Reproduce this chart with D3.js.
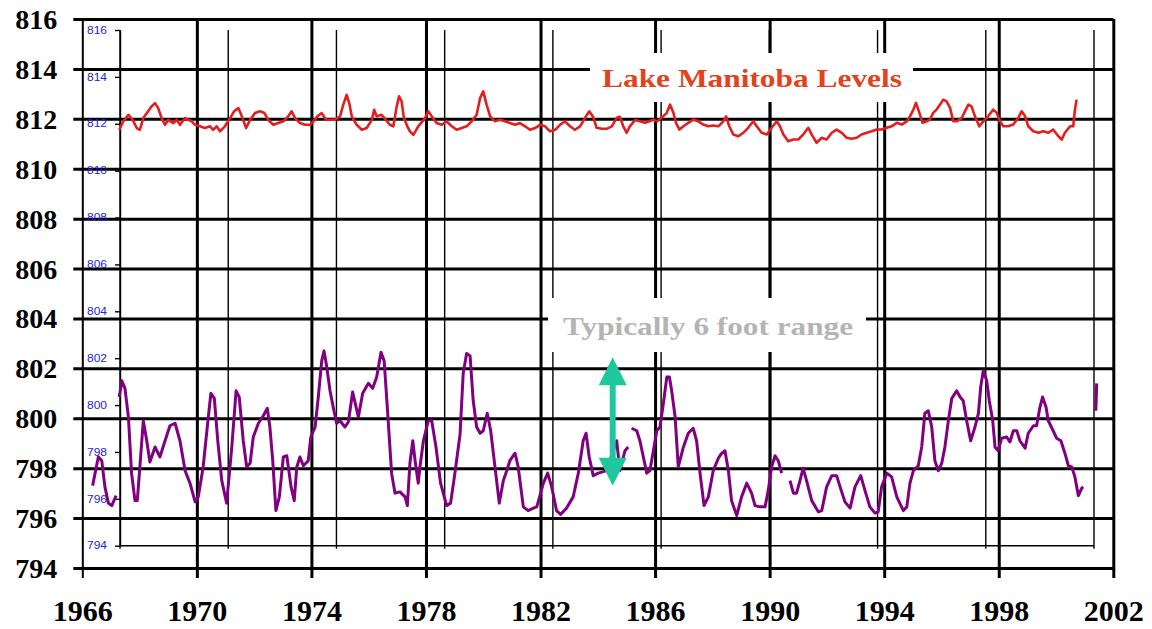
<!DOCTYPE html>
<html><head><meta charset="utf-8">
<script src="https://cdnjs.cloudflare.com/ajax/libs/d3/7.8.5/d3.min.js"></script>
<style>html,body{margin:0;padding:0;background:#fff;}svg{display:block;}</style>
</head><body>
<svg id="chart" width="1152" height="629"></svg>
<script>
// ---------- DATA ----------
const levelTicks = [794,796,798,800,802,804,806,808,810,812,814,816];
const yearTicks = [1966,1970,1974,1978,1982,1986,1990,1994,1998,2002];
const titleText = "Lake Manitoba Levels";
const rangeText = "Typically 6 foot range";

const redYears = [1967.29,1967.43,1967.61,1967.76,1967.90,1968.01,1968.13,1968.30,1968.42,1968.54,1968.65,1968.77,1968.89,1969.00,1969.18,1969.30,1969.41,1969.59,1969.70,1969.82,1969.94,1970.11,1970.28,1970.46,1970.57,1970.69,1970.81,1970.98,1971.16,1971.30,1971.45,1971.57,1971.72,1971.86,1972.03,1972.20,1972.36,1972.49,1972.67,1972.84,1973.02,1973.19,1973.31,1973.43,1973.60,1973.78,1973.95,1974.07,1974.21,1974.36,1974.51,1974.65,1974.82,1975.00,1975.11,1975.23,1975.32,1975.41,1975.58,1975.76,1975.93,1976.11,1976.19,1976.28,1976.45,1976.60,1976.74,1976.86,1976.98,1977.06,1977.15,1977.23,1977.35,1977.44,1977.56,1977.73,1977.97,1978.08,1978.20,1978.37,1978.55,1978.72,1978.90,1979.07,1979.25,1979.42,1979.60,1979.77,1979.89,1980.00,1980.12,1980.24,1980.41,1980.58,1980.76,1980.93,1981.11,1981.28,1981.46,1981.63,1981.81,1981.98,1982.16,1982.33,1982.51,1982.68,1982.85,1983.03,1983.20,1983.38,1983.55,1983.70,1983.84,1983.96,1984.14,1984.31,1984.49,1984.66,1984.77,1984.89,1985.01,1985.12,1985.30,1985.47,1985.65,1985.80,1985.94,1986.07,1986.23,1986.41,1986.52,1986.64,1986.73,1986.85,1986.99,1987.16,1987.33,1987.51,1987.68,1987.86,1988.03,1988.21,1988.38,1988.48,1988.59,1988.73,1988.91,1989.08,1989.25,1989.43,1989.55,1989.72,1989.90,1990.07,1990.25,1990.36,1990.48,1990.65,1990.83,1991.00,1991.17,1991.35,1991.47,1991.64,1991.82,1991.99,1992.17,1992.34,1992.52,1992.69,1992.86,1993.04,1993.21,1993.39,1993.56,1993.74,1993.91,1994.09,1994.26,1994.44,1994.61,1994.79,1994.90,1995.02,1995.11,1995.23,1995.34,1995.48,1995.60,1995.71,1995.83,1995.95,1996.06,1996.18,1996.30,1996.41,1996.53,1996.71,1996.82,1996.94,1997.05,1997.17,1997.32,1997.46,1997.63,1997.81,1997.93,1998.04,1998.16,1998.33,1998.51,1998.68,1998.80,1998.92,1999.03,1999.21,1999.38,1999.55,1999.73,1999.90,2000.08,2000.20,2000.31,2000.49,2000.60,2000.66,2000.72];
const redLevels = [811.56,811.9,812.16,811.96,811.63,811.56,812.03,812.3,812.5,812.63,812.43,812.03,811.76,811.96,811.83,811.96,811.76,812.03,811.96,811.9,811.76,811.7,811.63,811.7,811.56,811.7,811.5,811.7,812.03,812.3,812.43,812.1,811.63,811.96,812.23,812.3,812.23,811.96,811.76,811.83,811.9,812.1,812.3,812.03,811.83,811.76,811.76,811.9,812.1,812.23,811.96,811.96,811.96,812.1,812.56,812.96,812.63,812.1,811.76,811.56,811.63,811.96,812.36,812.1,812.16,811.96,811.76,811.7,812.5,812.9,812.7,812.03,811.7,811.5,811.36,811.7,812.03,812.3,812.1,811.83,811.76,811.9,811.7,811.56,811.63,811.7,811.9,812.16,812.83,813.1,812.56,812.1,811.9,811.96,811.9,811.83,811.76,811.83,811.7,811.56,811.63,811.76,811.7,811.5,811.56,811.76,811.9,811.7,811.56,811.7,812.03,812.3,812.07,811.64,811.6,811.6,811.7,812.04,812.08,811.7,811.44,811.7,811.95,811.9,811.84,811.9,811.97,811.9,812.04,812.24,812.57,812.24,811.84,811.57,811.7,811.84,811.97,811.9,811.77,811.7,811.73,811.7,811.9,812.1,811.7,811.37,811.3,811.44,811.64,811.9,811.7,811.44,811.37,811.64,811.9,811.7,811.37,811.1,811.17,811.17,811.37,811.64,811.37,811.04,811.24,811.17,811.44,811.57,811.44,811.24,811.2,811.24,811.37,811.44,811.5,811.57,811.57,811.64,811.7,811.84,811.77,811.9,812.1,812.37,812.64,812.24,811.84,811.9,811.97,812.24,812.37,812.57,812.77,812.7,812.44,811.9,811.9,812.04,812.3,812.57,812.5,812.1,811.7,811.9,812.1,812.37,812.24,811.9,811.7,811.7,811.77,812.04,812.3,812.1,811.7,811.5,811.44,811.5,811.44,811.57,811.3,811.17,811.44,811.7,811.7,812.37,812.77];

const purpleYears = [1966.36,1966.56,1966.68,1966.79,1966.91,1967.03,1967.18,1967.24,1967.29,1967.38,1967.49,1967.61,1967.72,1967.84,1967.92,1968.01,1968.13,1968.25,1968.36,1968.54,1968.71,1968.89,1969.06,1969.24,1969.41,1969.59,1969.76,1969.94,1970.05,1970.22,1970.40,1970.49,1970.61,1970.73,1970.87,1971.04,1971.22,1971.37,1971.48,1971.62,1971.74,1971.86,1971.97,1972.15,1972.32,1972.46,1972.55,1972.65,1972.76,1972.88,1973.02,1973.14,1973.29,1973.40,1973.49,1973.60,1973.72,1973.89,1973.98,1974.13,1974.24,1974.36,1974.44,1974.53,1974.65,1974.76,1974.88,1975.00,1975.17,1975.29,1975.44,1975.56,1975.64,1975.79,1975.99,1976.14,1976.28,1976.43,1976.54,1976.65,1976.80,1976.92,1977.09,1977.27,1977.35,1977.44,1977.54,1977.62,1977.73,1977.79,1977.91,1978.08,1978.20,1978.35,1978.51,1978.72,1978.86,1979.01,1979.19,1979.30,1979.42,1979.54,1979.65,1979.77,1979.89,1980.00,1980.14,1980.26,1980.41,1980.56,1980.70,1980.82,1980.93,1981.11,1981.22,1981.40,1981.57,1981.75,1981.87,1982.10,1982.25,1982.39,1982.56,1982.70,1982.91,1983.14,1983.32,1983.49,1983.59,1983.70,1983.84,1984.02,1984.31,1984.54,1984.66,1984.77,1984.95,1985.06,1985.12,1985.18,1985.36,1985.47,1985.59,1985.71,1985.82,1985.94,1986.06,1986.17,1986.29,1986.41,1986.50,1986.58,1986.70,1986.81,1986.99,1987.16,1987.33,1987.45,1987.57,1987.71,1987.86,1988.03,1988.21,1988.33,1988.44,1988.56,1988.67,1988.85,1989.02,1989.20,1989.37,1989.49,1989.66,1989.84,1989.95,1990.07,1990.19,1990.30,1990.42,1990.56,1990.71,1990.83,1990.94,1991.06,1991.17,1991.29,1991.47,1991.70,1991.82,1991.99,1992.17,1992.34,1992.46,1992.63,1992.81,1992.98,1993.18,1993.33,1993.50,1993.68,1993.79,1993.91,1994.09,1994.26,1994.44,1994.67,1994.79,1994.90,1995.02,1995.19,1995.31,1995.42,1995.54,1995.66,1995.77,1995.89,1996.01,1996.12,1996.24,1996.36,1996.53,1996.65,1996.76,1996.88,1997.02,1997.17,1997.29,1997.37,1997.46,1997.58,1997.67,1997.79,1997.87,1997.98,1998.10,1998.28,1998.39,1998.51,1998.63,1998.74,1998.92,1999.03,1999.21,1999.32,1999.44,1999.53,1999.65,1999.73,1999.90,2000.02,2000.17,2000.31,2000.43,2000.55,2000.66,2000.78,2000.90,2000.95,2001.20,2001.39,2001.42];
const purpleLevels = [797.3,798.45,798.3,797.25,796.6,796.5,796.9,null,800.85,801.5,801.2,800.05,797.8,796.7,796.7,798.05,799.9,799.1,798.25,798.85,798.45,799.1,799.7,799.8,799.1,797.9,797.4,796.65,796.85,798.05,800.05,801.0,800.8,799.1,797.5,796.6,798.85,801.1,800.85,799.1,798.05,798.2,799.25,799.8,800.1,800.4,799.65,798.3,796.3,796.85,798.45,798.5,797.25,796.7,798.05,798.45,798.1,798.3,799.25,799.65,800.85,802.3,802.7,802.1,801.1,800.45,799.8,799.9,799.65,799.85,801.05,800.45,800.05,801.0,801.4,801.2,801.65,802.65,802.3,800.45,797.8,797.0,797.05,796.85,796.5,798.2,799.1,798.3,797.4,798.05,799.1,799.9,799.9,798.85,797.4,796.5,796.6,797.8,799.35,801.8,802.6,802.5,800.7,799.65,799.4,799.5,800.2,799.5,798.05,796.6,797.5,797.9,798.3,798.6,798.05,796.45,796.3,796.4,796.45,797.4,797.8,797.25,796.3,796.15,796.4,796.85,797.8,799.1,799.4,798.45,797.7,797.8,797.9,798.7,799.1,797.9,798.7,798.85,null,799.6,799.5,799.1,798.45,797.8,797.9,798.7,799.5,799.65,800.6,801.65,801.65,801.1,800.05,798.05,798.85,799.4,799.6,799.1,797.8,796.5,796.85,797.9,798.4,798.6,798.7,797.9,796.7,796.1,796.85,797.4,797.0,796.5,796.45,796.45,797.1,798.05,798.5,798.3,797.8,null,797.5,797.0,797.0,797.5,798.0,797.5,796.7,796.25,796.3,797.25,797.7,797.7,797.25,796.65,796.4,797.25,797.7,797.1,796.45,796.2,796.25,797.25,797.8,797.65,796.85,796.3,796.45,797.4,797.9,798.1,798.85,800.2,800.3,799.65,798.3,797.9,798.2,798.85,799.9,800.8,801.1,800.85,800.7,799.9,799.1,799.65,800.2,801.25,801.9,801.5,800.7,799.9,798.85,798.7,799.2,799.25,799.05,799.5,799.5,799.1,798.8,799.4,799.7,799.7,800.45,800.85,800.45,799.9,799.5,799.2,799.1,798.6,798.1,798.05,797.65,796.9,797.2,797.25,null,800.3,801.4];

// annotation arrow (outer-scale units)
const arrowYear = 1984.52;
const arrowTop = 802.45;
const arrowBottom = 797.3;

// ---------- SCALES ----------
const svg = d3.select("#chart");
const x = d3.scaleLinear().domain([1966, 2002]).range([82.3, 1113.3]);
const y = d3.scaleLinear().domain([794, 816]).range([568, 19]);
// inner (overlaid) chart frame
const xi = d3.scaleLinear().domain([1966, 2002]).range([120, 1094]);
const yi = d3.scaleLinear().domain([794, 816]).range([545.7, 30]);

const serif = "'Liberation Serif','Times New Roman',serif";

// ---------- OUTER GRID + AXES ----------
const W = x(2002) - x(1966);
const H = y(794) - y(816);

const gy = svg.append("g").attr("transform", `translate(${x(1966)},0)`)
  .call(d3.axisLeft(y).tickValues(levelTicks).tickSize(-W).tickPadding(25).tickFormat(d3.format("d")));
gy.select(".domain").remove();
gy.selectAll(".tick line").attr("x1", -9).attr("stroke", "#000").attr("stroke-width", 3);
gy.selectAll(".tick text").attr("font-family", serif).attr("font-weight", "bold")
  .attr("font-size", 28).attr("fill", "#000").attr("dy", "0.34em");

const gx = svg.append("g").attr("transform", `translate(0,${y(794)})`)
  .call(d3.axisBottom(x).tickValues(yearTicks).tickSize(10).tickFormat(d3.format("d")));
gx.select(".domain").remove();
gx.selectAll(".tick line").attr("y1", -H).attr("stroke", "#000")
  .attr("stroke-width", d => d === 1966 ? 2 : 3);
gx.selectAll(".tick text").attr("font-family", serif).attr("font-weight", "bold")
  .attr("font-size", 30).attr("fill", "#000").attr("y", 53).attr("dy", 0);

// ---------- INNER OVERLAID CHART ----------
const inner = svg.append("g");
inner.selectAll("line.iv").data(yearTicks).join("line").attr("class", "iv")
  .attr("x1", d => xi(d)).attr("x2", d => xi(d))
  .attr("y1", yi(816)).attr("y2", yi(794) + 3)
  .attr("stroke", "#000").attr("stroke-width", 1.4);
inner.append("line")
  .attr("x1", xi(1966)).attr("x2", xi(2002)).attr("y1", yi(794)).attr("y2", yi(794))
  .attr("stroke", "#000").attr("stroke-width", 1.4);
const giy = inner.append("g").attr("transform", `translate(${xi(1966)},0)`)
  .call(d3.axisLeft(yi).tickValues(levelTicks).tickSize(5).tickSizeOuter(0).tickPadding(8).tickFormat(d3.format("d")));
giy.select(".domain").attr("stroke", "#000").attr("stroke-width", 1.4);
giy.selectAll(".tick line").attr("stroke", "#000").attr("stroke-width", 1.4);
giy.selectAll(".tick text").attr("font-family", "'Liberation Sans',Arial,sans-serif")
  .attr("font-size", 10).attr("fill", "#2424d8").attr("textLength", 20).attr("lengthAdjust", "spacingAndGlyphs");

// ---------- ANNOTATION BOXES ----------
svg.append("rect").attr("x", 590).attr("y", 53).attr("width", 323).attr("height", 49).attr("fill", "#fff");
svg.append("rect").attr("x", 548).attr("y", 298).attr("width", 318).attr("height", 54).attr("fill", "#fff");

// ---------- DATA LINES ----------
const line = d3.line().defined(d => d[1] !== null).x(d => x(d[0])).y(d => y(d[1]));
svg.append("path").datum(redYears.map((t, i) => [t, redLevels[i]]))
  .attr("d", line).attr("fill", "none").attr("stroke", "#e41e1e").attr("stroke-width", 2.6)
  .attr("stroke-linejoin", "round");
svg.append("path").datum(purpleYears.map((t, i) => [t, purpleLevels[i]]))
  .attr("d", line).attr("fill", "none").attr("stroke", "#800080").attr("stroke-width", 3)
  .attr("stroke-linejoin", "round");

// ---------- TEXT ----------
svg.append("text").text(titleText).attr("x", 602).attr("y", 87)
  .attr("font-family", serif).attr("font-weight", "bold").attr("font-size", 25)
  .attr("fill", "#e2421c").attr("textLength", 300).attr("lengthAdjust", "spacingAndGlyphs");
svg.append("text").text(rangeText).attr("x", 563).attr("y", 335)
  .attr("font-family", serif).attr("font-weight", "bold").attr("font-size", 25)
  .attr("fill", "#b4b4b4").attr("textLength", 290).attr("lengthAdjust", "spacingAndGlyphs");

// ---------- ARROW ----------
const ax = x(arrowYear), aT = y(arrowTop), aB = y(arrowBottom);
const head = 28, half = 14;
const arrowColor = "#1ec79d";
svg.append("line").attr("x1", ax).attr("x2", ax).attr("y1", aT + head - 2).attr("y2", aB - head + 2)
  .attr("stroke", arrowColor).attr("stroke-width", 6);
svg.append("path").attr("d", `M${ax},${aT} L${ax + half},${aT + head} L${ax - half},${aT + head} Z`).attr("fill", arrowColor);
svg.append("path").attr("d", `M${ax},${aB} L${ax + half},${aB - head} L${ax - half},${aB - head} Z`).attr("fill", arrowColor);
</script>
</body></html>
